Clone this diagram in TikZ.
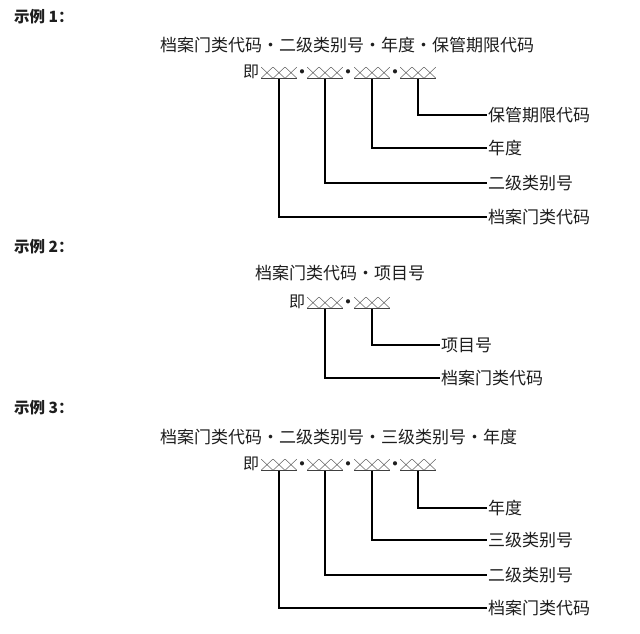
\documentclass[tikz,border=0pt]{standalone}
\usepackage{fontspec}
\setmainfont{Noto Sans CJK SC}
\usepackage{graphicx}
\usetikzlibrary{positioning}
\definecolor{inktext}{RGB}{30,30,30}
\tikzset{
  heading/.style={anchor=west,inner sep=0pt,text=inktext,
                  font=\fontsize{15.5}{18}\selectfont\bfseries},
  title/.style={anchor=west,inner sep=0pt,text=inktext,
                font=\fontsize{17}{20}\selectfont},
  ji/.style={anchor=base,inner sep=0pt,text=inktext,
             font=\fontsize{16}{19}\selectfont},
  code/.style={anchor=base,inner sep=0pt,outer sep=0pt,text depth=1.5pt,
               minimum width=36pt,text=black!90},
  sep/.style={anchor=base,inner sep=0pt,text=inktext,
              font=\fontsize{15}{18}\selectfont\bfseries},
  item/.style={anchor=west,inner sep=1pt,text=inktext,
               font=\fontsize{17}{20}\selectfont},
  lead/.style={draw=black,line width=1.1pt},
  uline/.style={draw=black!75,line width=.8pt},
}
\newcommand{\xxx}{\resizebox{36pt}{10pt}{╳╳╳}}
\begin{document}
\begin{tikzpicture}[x=1pt,y=-1pt]
  \useasboundingbox[fill=white] (0,0) rectangle (640,633);
  % example 1
  \node[heading] (h1) at (14,17) {示例 1：};
  \node[title] (t1) at (160,45) {档案门类代码・二级类别号・年度・保管期限代码};
  \node[ji] (j1) at (251,77) {即};
  \foreach \n/\x in {a/279,b/325,c/372,d/418}
    \node[code] (\n1) at (\x,77) {\xxx};
  \foreach \n/\x in {a/302,b/348,c/395}
    \node[sep] (p1\n) at (\x,77) {·};
  \node[item] (la1) at (487,217) {档案门类代码};
  \node[item] (lb1) at (487,183) {二级类别号};
  \node[item] (lc1) at (487,148) {年度};
  \node[item] (ld1) at (487,115) {保管期限代码};
  \foreach \n in {a,b,c,d} {
    \draw[uline] (\n1.south west) -- (\n1.south east);
    \draw[lead] (\n1.south) |- (l\n1.west);
  }
  % example 2
  \node[heading] (h2) at (14,247) {示例 2：};
  \node[title] (t2) at (255,273) {档案门类代码・项目号};
  \node[ji] (j2) at (297,307) {即};
  \foreach \n/\x in {a/325,b/372}
    \node[code] (\n2) at (\x,307) {\xxx};
  \node[sep] (p2a) at (348,307) {·};
  \node[item] (la2) at (440,378) {档案门类代码};
  \node[item] (lb2) at (440,345) {项目号};
  \foreach \n in {a,b} {
    \draw[uline] (\n2.south west) -- (\n2.south east);
    \draw[lead] (\n2.south) |- (l\n2.west);
  }
  % example 3
  \node[heading] (h3) at (14,408) {示例 3：};
  \node[title] (t3) at (160,437) {档案门类代码・二级类别号・三级类别号・年度};
  \node[ji] (j3) at (251,469) {即};
  \foreach \n/\x in {a/279,b/325,c/372,d/418}
    \node[code] (\n3) at (\x,469) {\xxx};
  \foreach \n/\x in {a/302,b/348,c/395}
    \node[sep] (p3\n) at (\x,469) {·};
  \node[item] (la3) at (487,608) {档案门类代码};
  \node[item] (lb3) at (487,575) {二级类别号};
  \node[item] (lc3) at (487,540) {三级类别号};
  \node[item] (ld3) at (487,508) {年度};
  \foreach \n in {a,b,c,d} {
    \draw[uline] (\n3.south west) -- (\n3.south east);
    \draw[lead] (\n3.south) |- (l\n3.west);
  }
\end{tikzpicture}
\end{document}
